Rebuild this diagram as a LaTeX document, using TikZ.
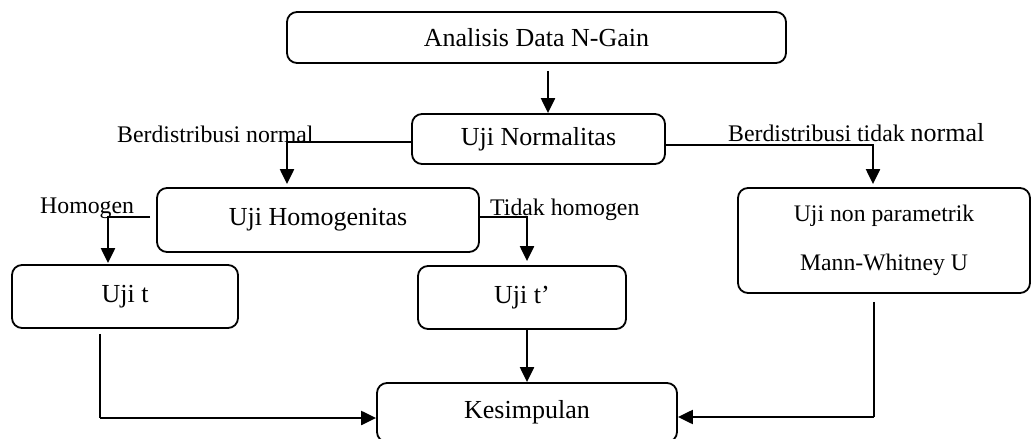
\documentclass[tikz,border=0pt]{standalone}
\usepackage{fontspec}
\setmainfont{Liberation Serif}
\usetikzlibrary{arrows.meta,calc}
\begin{document}
\begin{tikzpicture}[x=1pt,y=-1pt,
  box/.style={draw,line width=1.8pt,rounded corners=10pt,inner sep=0pt,
    font=\fontsize{26}{30}\selectfont},
  lbl/.style={anchor=base west,inner sep=0pt,font=\fontsize{23.8}{28}\selectfont},
  arr/.style={line width=2.2pt,-{Triangle[length=15pt,width=14pt]}},
  thinl/.style={line width=1.4pt}]
\useasboundingbox (0,0) rectangle (1031,439);
\node[box,minimum width=499pt,minimum height=51pt] (A) at (536.5,37.5) {Analisis Data N-Gain};
\node[box,minimum width=253pt,minimum height=50pt] (N) at (538.5,139) {Uji Normalitas};
\node[box,minimum width=322pt,minimum height=64pt] (H) at (318,220) {Uji Homogenitas};
\node[box,minimum width=226pt,minimum height=63pt] (T) at (125,296.5) {Uji t};
\node[box,minimum width=208pt,minimum height=63pt] (T2) at (522,297.5) {Uji t’};
\node[box,minimum width=292pt,minimum height=105pt,align=center,
  font=\fontsize{23.7}{49}\selectfont] (M) at (884,240.5) {Uji non parametrik\\Mann-Whitney U};
\node[box,minimum width=300pt,minimum height=59pt] (K) at (527,412.5) {Kesimpulan};

\node[lbl] (l1) at (117,142) {Berdistribusi normal};
\node[lbl] (l2) at (40,213) {Homogen};
\node[lbl] (l3) at (490,215) {Tidak homogen};
\node[lbl] (l4) at (728,141) {Berdistribusi tidak {\fontsize{26}{30}\selectfont normal}};

\draw[arr] ($(A.south)+(11.5,7)$) coordinate (a1) -- (a1 |- N.north);
\draw[arr] ($(N.west)+(0,3)$) -| ($(H.north)+(-31,-3)$);
\draw[arr] ($(H.west)+(-6,-3)$) -| ($(T.north)+(-17,-1)$);
\draw[arr] ($(H.east)+(0,-3)$) -| ($(T2.north)+(5,-4)$);
\draw[arr] ($(N.east)+(0,6)$) -| ($(M.north)+(-11,-3)$);
\draw[arr] (K.north |- T2.south) -- (K.north);

\coordinate (t1) at ($(T.south)+(-25,5)$);
\coordinate (k1) at ($(K.west)+(0,5.5)$);
\draw[thinl] (t1) -- (t1 |- k1) coordinate (t2);
\draw[arr] (t2) -- (k1);

\coordinate (m1) at ($(M.south)+(-10,8)$);
\coordinate (k2) at ($(K.east)+(0,4.5)$);
\draw[thinl] (m1) -- (m1 |- k2) coordinate (m2);
\draw[arr] (m2) -- (k2);
\end{tikzpicture}
\end{document}
